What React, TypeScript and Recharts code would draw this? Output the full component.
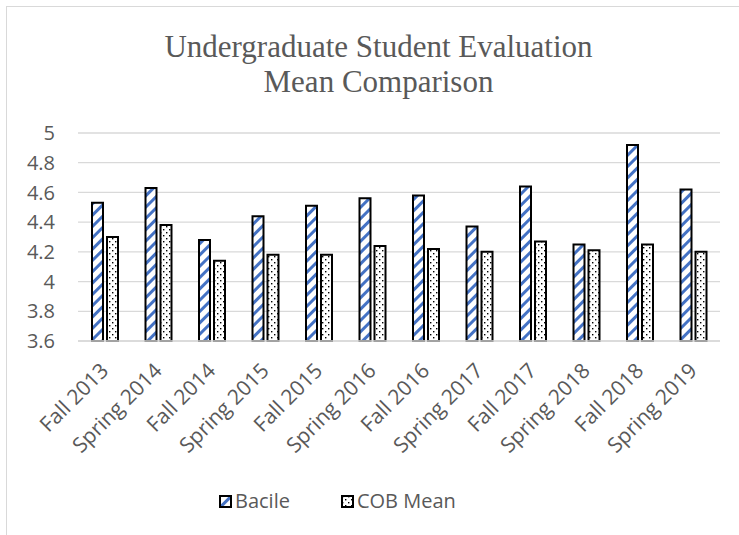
import { BarChart, Bar, XAxis, YAxis, CartesianGrid, Legend } from "recharts";

const TERMS = [
  "Fall 2013",
  "Spring 2014",
  "Fall 2014",
  "Spring 2015",
  "Fall 2015",
  "Spring 2016",
  "Fall 2016",
  "Spring 2017",
  "Fall 2017",
  "Spring 2018",
  "Fall 2018",
  "Spring 2019",
];

const BACILE = [4.53, 4.63, 4.28, 4.44, 4.51, 4.56, 4.58, 4.37, 4.64, 4.25, 4.92, 4.62];
const COB_MEAN = [4.3, 4.38, 4.14, 4.18, 4.18, 4.24, 4.22, 4.2, 4.27, 4.21, 4.25, 4.2];

const Y_TICKS = [3.6, 3.8, 4, 4.2, 4.4, 4.6, 4.8, 5];

const TEXT = "#595959";
const GRID = "#d9d9d9";
const BLUE = "#4472c4";
const FONT = "'Open Sans', sans-serif";

const data = TERMS.map((term, i) => ({
  term,
  bacile: BACILE[i],
  cob: COB_MEAN[i],
}));

// eslint-disable-next-line @typescript-eslint/no-explicit-any
function TermTick({ x, y, payload }: any) {
  const ax = x + 5;
  const ay = y + 31;
  return (
    <text
      x={ax}
      y={ay}
      transform={`rotate(-45 ${ax} ${ay})`}
      textAnchor="end"
      fill={TEXT}
      fontSize={21}
      fontFamily={FONT}
    >
      {payload.value}
    </text>
  );
}

function SwatchIcon({ fill }: { fill: string }) {
  return (
    <svg width={13} height={13} style={{ display: "block" }}>
      <rect x={1} y={1} width={11} height={11} fill={fill} stroke="#000" strokeWidth={2} />
    </svg>
  );
}

function ChartLegend() {
  const items = [
    { name: "Bacile", fill: "url(#stripes)" },
    { name: "COB Mean", fill: "url(#dots)" },
  ];
  return (
    <div
      style={{
        height: 44,
        display: "flex",
        alignItems: "flex-start",
        paddingLeft: 211,
        gap: 51,
        fontFamily: FONT,
        fontSize: 20,
        color: TEXT,
        lineHeight: "20px",
      }}
    >
      {items.map((it) => (
        <div key={it.name} style={{ display: "flex", alignItems: "center", gap: 3 }}>
          <SwatchIcon fill={it.fill} />
          <span>{it.name}</span>
        </div>
      ))}
    </div>
  );
}

export default function App() {
  return (
    <div
      style={{
        position: "fixed",
        left: 0,
        top: 0,
        width: 739,
        height: 535,
        overflow: "hidden",
        background: "#fff",
      }}
    >
      <div
        style={{
          position: "absolute",
          left: 6,
          top: 6,
          width: 900,
          height: 700,
          border: `1.5px solid ${GRID}`,
        }}
      />
      <div
        style={{
          position: "absolute",
          left: 0,
          top: 29,
          width: 757,
          textAlign: "center",
          fontFamily: "'Liberation Serif', serif",
          fontSize: 31,
          lineHeight: "35px",
          color: TEXT,
        }}
      >
        Undergraduate Student Evaluation
        <br />
        Mean Comparison
      </div>
      <div style={{ position: "absolute", left: 0, top: 0 }}>
        <BarChart
          width={739}
          height={535}
          data={data}
          margin={{ top: 133, right: 19, left: 8, bottom: 0 }}
          barSize={11}
          barGap={4}
        >
          <defs>
            <pattern
              id="stripes"
              patternUnits="userSpaceOnUse"
              width={8}
              height={8}
              patternTransform="rotate(45)"
            >
              <rect width={8} height={8} fill="#fff" />
              <rect x={0} y={0} width={3} height={8} fill={BLUE} />
            </pattern>
            <pattern id="dots" patternUnits="userSpaceOnUse" width={6} height={6}>
              <rect width={6} height={6} fill="#fff" />
              <rect x={1} y={1} width={1.4} height={1.4} fill="#000" />
              <rect x={4} y={4} width={1.4} height={1.4} fill="#000" />
            </pattern>
          </defs>
          <CartesianGrid vertical={false} stroke={GRID} strokeWidth={1.3} />
          <XAxis
            dataKey="term"
            interval={0}
            height={150}
            tickSize={0}
            tickMargin={0}
            axisLine={{ stroke: GRID, strokeWidth: 1.3 }}
            tickLine={false}
            tick={<TermTick />}
          />
          <YAxis
            width={70}
            domain={[3.6, 5]}
            ticks={Y_TICKS}
            tickSize={0}
            tickMargin={23}
            axisLine={false}
            tickLine={false}
            tick={{ fill: TEXT, fontSize: 20, fontFamily: FONT }}
          />
          <Legend verticalAlign="bottom" content={<ChartLegend />} />
          <Bar
            dataKey="bacile"
            name="Bacile"
            fill="url(#stripes)"
            stroke="#000"
            strokeWidth={2}
            isAnimationActive={false}
          />
          <Bar
            dataKey="cob"
            name="COB Mean"
            fill="url(#dots)"
            stroke="#000"
            strokeWidth={2}
            isAnimationActive={false}
          />
        </BarChart>
      </div>
    </div>
  );
}
